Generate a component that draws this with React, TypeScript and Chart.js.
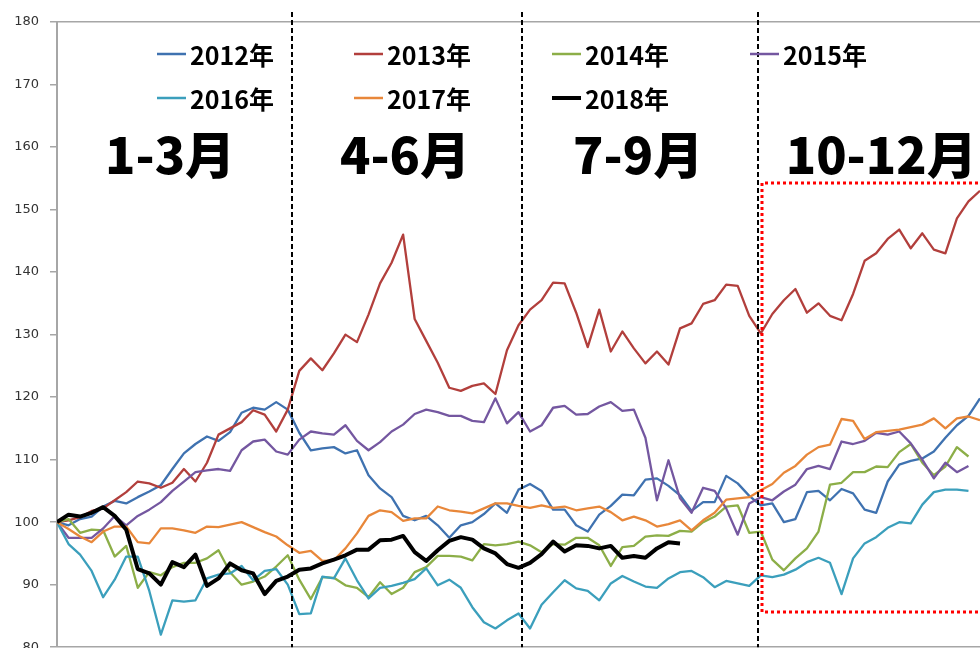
import React, { useEffect, useRef } from "react";
import { Chart, registerables } from "chart.js";

Chart.register(...registerables);

// trading-day index (x), sampled every 3 sessions
const tradingDays = [
  0, 3, 6, 9, 12, 15, 18, 21, 24, 27,
  30, 33, 36, 39, 42, 45, 48, 51, 54, 57,
  60, 63, 66, 69, 72, 75, 78, 81, 84, 87,
  90, 93, 96, 99, 102, 105, 108, 111, 114, 117,
  120, 123, 126, 129, 132, 135, 138, 141, 144, 147,
  150, 153, 156, 159, 162, 165, 168, 171, 174, 177,
  180, 183, 186, 189, 192, 195, 198, 201, 204, 207,
  210, 213, 216, 219, 222, 225, 228, 231, 234, 237,
  240,
];

const seriesNames = ["2012年", "2013年", "2014年", "2015年", "2016年", "2017年", "2018年"];

const y2012 = [
  100, 99.5, 100.5, 100.9, 102.5, 103.4, 103, 104, 104.9, 105.9,
  108.5, 111, 112.5, 113.7, 113, 114.4, 117.5, 118.3, 118, 119.2,
  118, 114.3, 111.5, 111.8, 112, 111, 111.5, 107.5, 105.4, 104,
  101, 100.3, 101, 99.5, 97.5, 99.5, 100, 101.3, 103, 101.5,
  105.2, 106.1, 105, 102, 102, 99.5, 98.5, 101.2, 102.6, 104.4,
  104.3, 106.8, 107, 105.8, 104.3, 101.8, 103.2, 103.2, 107.4, 106.2,
  104.2, 102.7, 103, 100, 100.5, 104.8, 105, 103.5, 105.3, 104.6,
  102, 101.5, 106.5, 109.2, 109.8, 110.2, 111.3, 113.5, 115.5, 117,
  119.8,
];

const y2013 = [
  100, 100.3, 100.8, 101.8, 102.2, 103.5, 104.8, 106.5, 106.2, 105.5,
  106.3, 108.5, 106.5, 109.5, 114, 115, 116, 117.9, 117.2, 114.5,
  118, 124.2, 126.2, 124.3, 127, 130, 128.8, 133.2, 138.2, 141.5,
  146, 132.5, 129, 125.5, 121.5, 121, 121.8, 122.2, 120.5, 127.5,
  131.5, 134, 135.5, 138.3, 138.2, 133.5, 128, 134, 127.3, 130.5,
  127.8, 125.4, 127.3, 125.2, 131, 131.8, 134.9, 135.5, 138, 137.8,
  133, 130.2, 133.3, 135.5, 137.3, 133.5, 135, 133, 132.3, 136.5,
  141.8, 143, 145.3, 146.8, 143.8, 146.2, 143.6, 143, 148.6, 151.3,
  153,
];

const y2014 = [
  100, 100.5, 98.3, 98.8, 98.7, 94.5, 96.2, 89.5, 92, 91.5,
  92.8, 93.5, 93.5, 94.2, 95.5, 92, 90, 90.5, 91.3, 92.9,
  94.7, 90.8, 87.7, 91.2, 91.1, 89.9, 89.5, 88, 90.4, 88.5,
  89.5, 92, 92.8, 94.6, 94.6, 94.5, 93.9, 96.5, 96.3, 96.5,
  96.9, 96.3, 95.2, 96.5, 96.4, 97.5, 97.5, 96.3, 93, 96,
  96.2, 97.7, 97.9, 97.8, 98.6, 98.5, 100, 100.9, 102.5, 102.7,
  98.3, 98.5, 94, 92.3, 94.2, 95.8, 98.5, 106, 106.3, 108,
  108, 108.9, 108.8, 111.2, 112.5, 109.5, 107.5, 108.9, 112, 110.5,
];

const y2015 = [
  100, 97.5, 97.5, 97.5, 99, 101, 99.5, 101, 102, 103.2,
  105, 106.5, 108, 108.3, 108.5, 108.2, 111.5, 112.9, 113.2, 111.3,
  110.8, 113.2, 114.5, 114.2, 114, 115.5, 113, 111.5, 112.8, 114.5,
  115.6, 117.3, 118, 117.6, 117, 117, 116.2, 116, 119.8, 115.8,
  117.6, 114.5, 115.5, 118.3, 118.6, 117.2, 117.3, 118.5, 119.2, 117.8,
  118, 113.5, 103.5, 109.9, 103.8, 101.5, 105.5, 105, 102.2, 98,
  103, 104, 103.5, 104.9, 106, 108.5, 109, 108.5, 112.9, 112.5,
  113, 114.3, 114, 114.5, 112.6, 110, 107, 109.5, 108, 109,
];

const y2016 = [
  100, 96.5, 94.8, 92.2, 88, 90.8, 94.5, 94.5, 89, 82,
  87.5, 87.3, 87.5, 91, 91.6, 91.8, 93, 90.7, 92.2, 92.5,
  90, 85.3, 85.4, 91.3, 91, 94.2, 90.7, 87.8, 89.5, 89.8,
  90.3, 90.9, 92.6, 89.9, 90.8, 89.5, 86.4, 84, 83, 84.3,
  85.4, 83, 86.8, 88.8, 90.7, 89.4, 89, 87.5, 90.2, 91.4,
  90.5, 89.7, 89.5, 91, 92, 92.2, 91.2, 89.6, 90.6, 90.2,
  89.8, 91.5, 91.2, 91.6, 92.4, 93.6, 94.3, 93.5, 88.5, 94.2,
  96.6, 97.6, 99.1, 100, 99.8, 102.8, 104.8, 105.2, 105.2, 105,
];

const y2017 = [
  100, 98.9, 97.7, 96.8, 98.5, 99.3, 99.3, 96.8, 96.6, 99,
  99, 98.7, 98.3, 99.3, 99.2, 99.6, 100, 99.2, 98.4, 97.7,
  96.3, 95.1, 95.4, 93.8, 93.9, 95.8, 98.2, 101, 101.9, 101.6,
  100.2, 100.6, 100.6, 102.5, 101.9, 101.7, 101.4, 102.2, 103, 103,
  102.6, 102.3, 102.7, 102.3, 102.5, 101.9, 102.2, 102.5, 101.6, 100.3,
  100.9, 100.3, 99.3, 99.7, 100.3, 98.7, 100.3, 101.5, 103.6, 103.8,
  104, 105.1, 106.1, 107.9, 109, 110.8, 112, 112.4, 116.5, 116.2,
  113.3, 114.4, 114.6, 114.8, 115.2, 115.6, 116.6, 115, 116.6, 116.9,
  116.3,
];

const y2018 = [
  100, 101.2, 100.9, 101.5, 102.4, 101, 98.8, 92.5, 91.8, 90,
  93.6, 92.8, 94.8, 89.8, 91, 93.4, 92.3, 91.8, 88.5, 90.6,
  91.3, 92.4, 92.6, 93.4, 94, 94.7, 95.6, 95.6, 97.1, 97.2,
  97.8, 95.2, 93.8, 95.5, 97, 97.6, 97.2, 95.8, 95, 93.3,
  92.7, 93.5, 94.9, 96.9, 95.3, 96.3, 96.2, 95.8, 96.2, 94.3,
  94.6, 94.3, 95.8, 96.8, 96.6,
];

const seriesValues = [y2012, y2013, y2014, y2015, y2016, y2017, y2018];

const quarterLabels = ["1-3月", "4-6月", "7-9月", "10-12月"];

// styling (not data)
const COLORS = ["#3f72b0", "#b23f3c", "#8cae48", "#7457a0", "#3b9fbc", "#e8873a", "#000000"];
const WIDTHS = [2.3, 2.3, 2.3, 2.3, 2.3, 2.3, 4];
const QUARTER_BOUNDARIES = [61, 120.9, 182.3];
const QUARTER_CENTERS = [29.4, 90.5, 151.1, 214.3];
const HIGHLIGHT = { fromDay: 183.3, top: 154.3, bottom: 85.6 };
const LEGEND_COLS = [157, 354, 552, 750];
const LEGEND_ROWS = [54, 98];

const overlayPlugin = {
  id: "overlay",
  afterDatasetsDraw(chart: any) {
    const { ctx, chartArea, scales } = chart;
    const x = scales.x;
    const y = scales.y;
    ctx.save();

    // quarter boundaries
    ctx.strokeStyle = "#000";
    ctx.lineWidth = 2;
    ctx.setLineDash([5, 3]);
    for (const d of QUARTER_BOUNDARIES) {
      const px = Math.round(x.getPixelForValue(d));
      ctx.beginPath();
      ctx.moveTo(px, 12);
      ctx.lineTo(px, chartArea.bottom);
      ctx.stroke();
    }

    // red dotted highlight box
    ctx.strokeStyle = "#ff0000";
    ctx.lineWidth = 3;
    ctx.setLineDash([3, 3]);
    const l = Math.round(x.getPixelForValue(HIGHLIGHT.fromDay));
    const t = Math.round(y.getPixelForValue(HIGHLIGHT.top));
    const b = Math.round(y.getPixelForValue(HIGHLIGHT.bottom));
    ctx.beginPath();
    ctx.moveTo(chart.width + 10, t);
    ctx.lineTo(l, t);
    ctx.lineTo(l, b);
    ctx.lineTo(chart.width + 10, b);
    ctx.stroke();
    ctx.setLineDash([]);

    // quarter labels
    ctx.fillStyle = "#000";
    ctx.font = '900 50px "Noto Sans CJK JP", sans-serif';
    ctx.textAlign = "center";
    ctx.textBaseline = "middle";
    quarterLabels.forEach((lab, i) => {
      ctx.fillText(lab, x.getPixelForValue(QUARTER_CENTERS[i]), 155);
    });

    // legend
    ctx.font = 'bold 25px "Noto Sans CJK JP", sans-serif';
    ctx.textAlign = "left";
    seriesNames.forEach((name, i) => {
      const col = i < 4 ? i : i - 4;
      const row = i < 4 ? 0 : 1;
      const lx = LEGEND_COLS[col];
      const ly = LEGEND_ROWS[row];
      ctx.strokeStyle = COLORS[i];
      ctx.lineWidth = i === 6 ? 4 : 2.5;
      ctx.beginPath();
      ctx.moveTo(lx, ly);
      ctx.lineTo(lx + 29, ly);
      ctx.stroke();
      ctx.fillStyle = "#000";
      ctx.fillText(name, lx + 33, ly + 1);
    });

    ctx.restore();
  },
};

export default function App() {
  const canvasRef = useRef<HTMLCanvasElement | null>(null);

  useEffect(() => {
    document.body.style.margin = "0";
    document.body.style.overflow = "hidden";
    document.documentElement.style.overflow = "hidden";
    const canvas = canvasRef.current;
    if (!canvas) return;

    const datasets = seriesNames.map((name, i) => ({
      label: name,
      data: seriesValues[i].map((v, k) => ({ x: tradingDays[k], y: v })),
      borderColor: COLORS[i],
      backgroundColor: COLORS[i],
      borderWidth: WIDTHS[i],
      pointRadius: 0,
      tension: 0,
      fill: false,
      order: 6 - i,
      borderJoinStyle: "round" as const,
    }));

    const chart = new Chart(canvas, {
      type: "line",
      data: { datasets },
      options: {
        animation: false,
        responsive: false,
        maintainAspectRatio: false,
        events: [],
        layout: { padding: { top: 22, right: 0, bottom: 0, left: 0 } },
        plugins: { legend: { display: false }, tooltip: { enabled: false } },
        scales: {
          x: { type: "linear", min: 0, max: 240, display: false },
          y: {
            min: 80,
            max: 180,
            ticks: {
              stepSize: 10,
              color: "#333333",
              font: { family: "DejaVu Sans", size: 13 },
              padding: 11,
            },
            grid: {
              color: (c: any) =>
                c.tick && (c.tick.value === 180 || c.tick.value === 80) ? "#a6a6a6" : "rgba(0,0,0,0)",
              tickColor: "#a6a6a6",
              tickLength: 7,
              lineWidth: 1.5,
            },
            border: { color: "#a6a6a6", width: 2 },
            afterFit: (s: any) => {
              s.width = 57;
            },
          },
        },
      },
      plugins: [overlayPlugin],
    });

    return () => chart.destroy();
  }, []);

  return (
    <div style={{ width: 980, height: 666 }}>
      <canvas ref={canvasRef} width={980} height={666} style={{ display: "block" }} />
    </div>
  );
}
